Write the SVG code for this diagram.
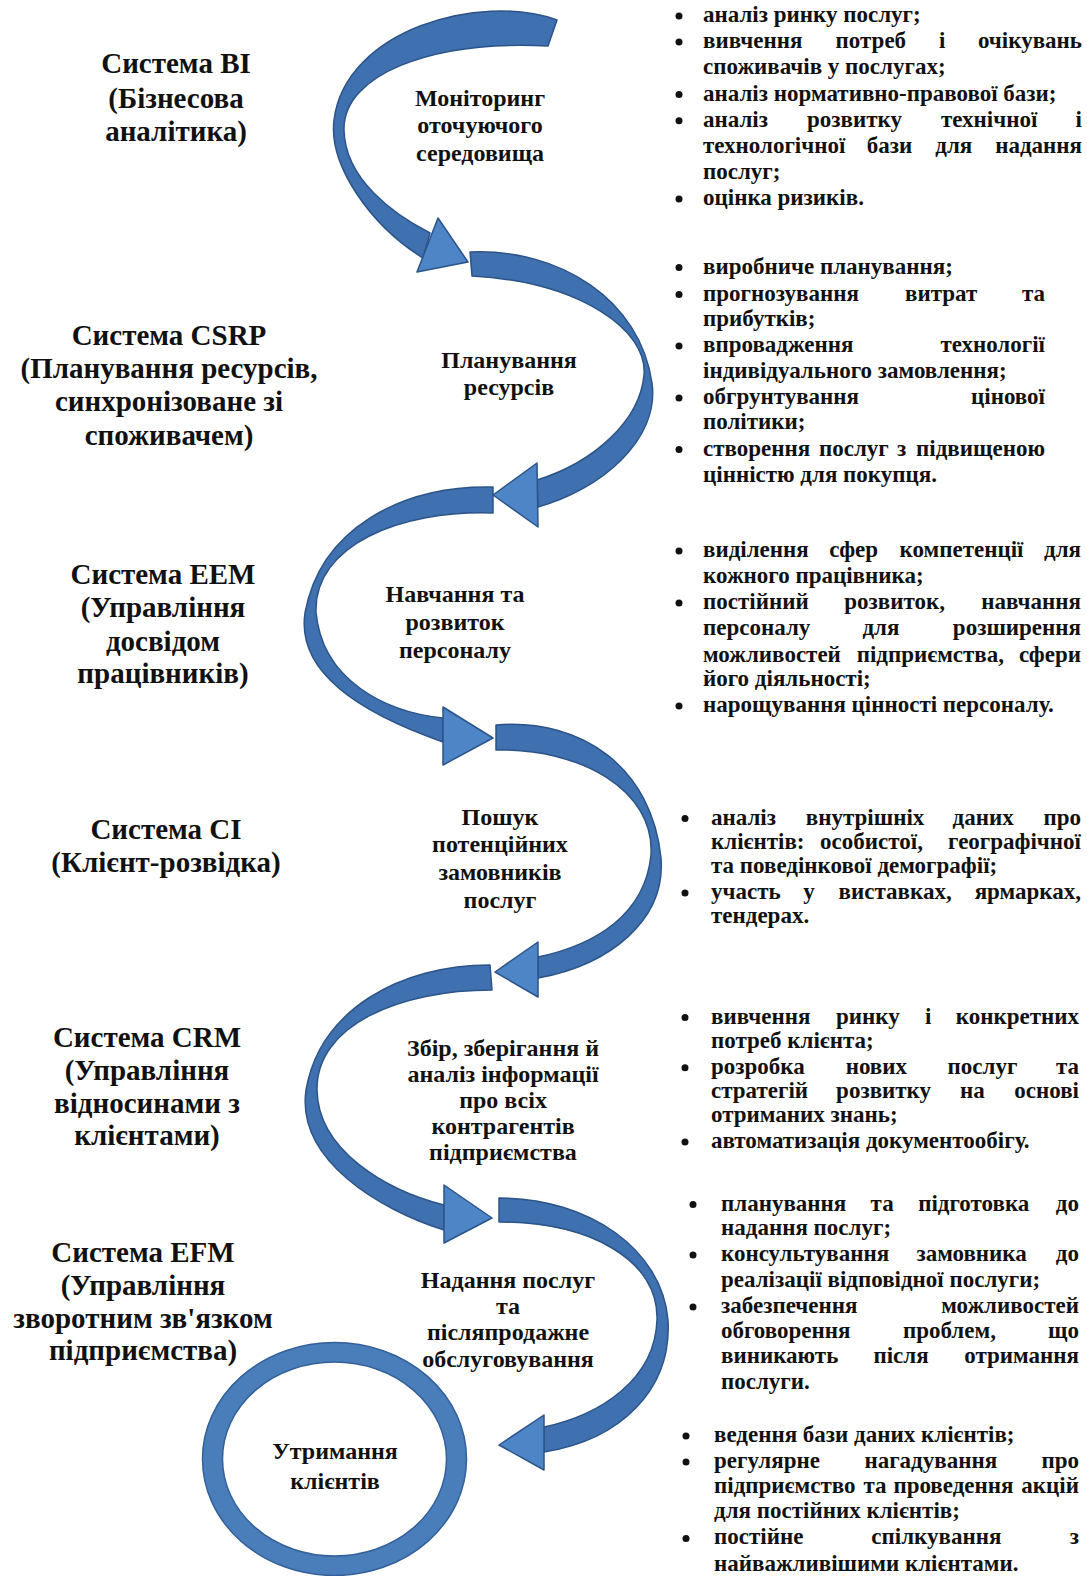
<svg xmlns="http://www.w3.org/2000/svg" width="1087" height="1576" viewBox="0 0 1087 1576">
<style>
text{font-family:"Liberation Serif","Times New Roman",serif;font-weight:bold;fill:#111}
.l{font-size:29px;text-anchor:middle}
.m{font-size:24px;text-anchor:middle}
.r{font-size:23px}
.e{text-anchor:end}
.band{fill:#3f70b0;stroke:#2c5488;stroke-width:1.5;stroke-linejoin:round}
.head{fill:#4d85c7;stroke:#2c5488;stroke-width:1.5;stroke-linejoin:round}
.dot{fill:#111}
</style>
<rect width="1087" height="1576" fill="#fff"/>
<g id="connectors">
<path class="band" d="M557,20 C480,-8 345,30 334,120 C328.5,165 370,225 423,258 L430,233 C395,215 345,180 344,130 C343,75 430,40 548,46 Z"/>
<polygon class="head" points="438,218 468,262 417,272"/>
<path class="band" d="M470,252 C560,248 640,300 652,383 C660,440 600,490 538,507 L537,480 C595,462 640,420 644,375 C648,330 580,282 472,276 Z"/>
<polygon class="head" points="537,463 493,495 538,527"/>
<path class="band" d="M493,487 C400,485 320,530 305,613 C295,680 380,720 443,742 L443,718 C385,712 322,680 316,612 C314,545 400,510 493,513 Z"/>
<polygon class="head" points="443,707 493,738 443,765"/>
<path class="band" d="M496,725 C585,718 652,770 661,858 C666,920 610,965 538,978 L538,957 C595,945 645,915 651,855 C655,790 580,748 496,750 Z"/>
<polygon class="head" points="538,942 495,972 538,997"/>
<path class="band" d="M490,965 C400,965 320,1010 306,1090 C296,1160 380,1210 444,1230 L444,1205 C385,1190 318,1150 317,1090 C316,1025 400,990 492,990 Z"/>
<polygon class="head" points="444,1185 492,1218 444,1243"/>
<path class="band" d="M499,1198 C590,1198 662,1250 668,1320 C672,1390 620,1440 544,1452 L544,1427 C600,1415 655,1380 657,1320 C659,1260 590,1222 499,1222 Z"/>
<polygon class="head" points="544,1415 499,1445 544,1470"/>
</g>
<g id="ring-retention">
<ellipse cx="334.5" cy="1459" rx="132" ry="116.5" fill="#4a7ebb" stroke="#33609a" stroke-width="1.5"/>
<ellipse cx="334.5" cy="1459" rx="112" ry="97" fill="#fff" stroke="#33609a" stroke-width="1.5"/>
<text class="m" x="335" y="1459">Утримання</text>
<text class="m" x="335" y="1489">клієнтів</text>
</g>
<g id="system-bi">
<text class="l" x="176" y="73">Система BI</text>
<text class="l" x="176" y="107.5">(Бізнесова</text>
<text class="l" x="176" y="140.7">аналітика)</text>
</g>
<g id="system-csrp">
<text class="l" x="169" y="345">Система CSRP</text>
<text class="l" x="169" y="378">(Планування ресурсів,</text>
<text class="l" x="169" y="411">синхронізоване зі</text>
<text class="l" x="169" y="445">споживачем)</text>
</g>
<g id="system-eem">
<text class="l" x="163" y="584">Система EEM</text>
<text class="l" x="163" y="617">(Управління</text>
<text class="l" x="163" y="650.5">досвідом</text>
<text class="l" x="163" y="682.7">працівників)</text>
</g>
<g id="system-ci">
<text class="l" x="166" y="838.5">Система CI</text>
<text class="l" x="166" y="871.7">(Клієнт-розвідка)</text>
</g>
<g id="system-crm">
<text class="l" x="147" y="1046.7">Система CRM</text>
<text class="l" x="147" y="1080">(Управління</text>
<text class="l" x="147" y="1113">відносинами з</text>
<text class="l" x="147" y="1145">клієнтами)</text>
</g>
<g id="system-efm">
<text class="l" x="143" y="1262">Система EFM</text>
<text class="l" x="143" y="1295">(Управління</text>
<text class="l" x="143" y="1328">зворотним зв'язком</text>
<text class="l" x="143" y="1360">підприємства)</text>
</g>
<g id="stage-monitoring">
<text class="m" x="480" y="105.5">Моніторинг</text>
<text class="m" x="480" y="132.7">оточуючого</text>
<text class="m" x="480" y="160.8">середовища</text>
</g>
<g id="stage-planning">
<text class="m" x="509" y="368">Планування</text>
<text class="m" x="509" y="395">ресурсів</text>
</g>
<g id="stage-training">
<text class="m" x="455" y="602">Навчання та</text>
<text class="m" x="455" y="630">розвиток</text>
<text class="m" x="455" y="658">персоналу</text>
</g>
<g id="stage-search">
<text class="m" x="500" y="824.5">Пошук</text>
<text class="m" x="500" y="851.6">потенційних</text>
<text class="m" x="500" y="879.8">замовників</text>
<text class="m" x="500" y="908">послуг</text>
</g>
<g id="stage-collect">
<text class="m" x="503" y="1056">Збір, зберігання й</text>
<text class="m" x="503" y="1082">аналіз інформації</text>
<text class="m" x="503" y="1108">про всіх</text>
<text class="m" x="503" y="1134">контрагентів</text>
<text class="m" x="503" y="1160">підприємства</text>
</g>
<g id="stage-service">
<text class="m" x="508" y="1288">Надання послуг</text>
<text class="m" x="508" y="1314">та</text>
<text class="m" x="508" y="1340">післяпродажне</text>
<text class="m" x="508" y="1367">обслуговування</text>
</g>
<g id="list-bi">
<circle class="dot" cx="679" cy="16" r="3.5"/><circle class="dot" cx="679" cy="42" r="3.5"/><circle class="dot" cx="679" cy="94.5" r="3.5"/><circle class="dot" cx="679" cy="120.7" r="3.5"/><circle class="dot" cx="679" cy="199" r="3.5"/>
<text class="r" x="703" y="22">аналіз ринку послуг;</text>
<text class="r" y="48"><tspan x="703">вивчення</tspan><tspan x="835.6">потреб</tspan><tspan x="939">і</tspan><tspan class="e" x="1082">очікувань</tspan></text>
<text class="r" x="703" y="74">споживачів у послугах;</text>
<text class="r" x="703" y="100.5">аналіз нормативно-правової бази;</text>
<text class="r" y="126.7"><tspan x="703">аналіз</tspan><tspan x="807">розвитку</tspan><tspan x="941">технічної</tspan><tspan class="e" x="1082">і</tspan></text>
<text class="r" y="152.8"><tspan x="703">технологічної</tspan><tspan x="866.7">бази</tspan><tspan x="935.3">для</tspan><tspan class="e" x="1082">надання</tspan></text>
<text class="r" x="703" y="179">послуг;</text>
<text class="r" x="703" y="205">оцінка ризиків.</text>
</g>
<g id="list-csrp">
<circle class="dot" cx="679" cy="267.5" r="3.5"/><circle class="dot" cx="679" cy="294.6" r="3.5"/><circle class="dot" cx="679" cy="346" r="3.5"/><circle class="dot" cx="679" cy="398" r="3.5"/><circle class="dot" cx="679" cy="449.5" r="3.5"/>
<text class="r" x="703" y="273.5">виробниче планування;</text>
<text class="r" y="300.6"><tspan x="703">прогнозування</tspan><tspan x="905">витрат</tspan><tspan class="e" x="1045">та</tspan></text>
<text class="r" x="703" y="325.7">прибутків;</text>
<text class="r" y="352"><tspan x="703">впровадження</tspan><tspan class="e" x="1045">технології</tspan></text>
<text class="r" x="703" y="378">індивідуального замовлення;</text>
<text class="r" y="404"><tspan x="703">обгрунтування</tspan><tspan class="e" x="1045">цінової</tspan></text>
<text class="r" x="703" y="429.3">політики;</text>
<text class="r" y="455.5"><tspan x="703">створення</tspan><tspan x="819">послуг</tspan><tspan x="897">з</tspan><tspan class="e" x="1045">підвищеною</tspan></text>
<text class="r" x="703" y="481.6">цінністю для покупця.</text>
</g>
<g id="list-eem">
<circle class="dot" cx="679" cy="551" r="3.5"/><circle class="dot" cx="679" cy="603" r="3.5"/><circle class="dot" cx="679" cy="706" r="3.5"/>
<text class="r" y="557"><tspan x="703">виділення</tspan><tspan x="829.3">сфер</tspan><tspan x="899.5">компетенції</tspan><tspan class="e" x="1081">для</tspan></text>
<text class="r" x="703" y="583">кожного працівника;</text>
<text class="r" y="609"><tspan x="703">постійний</tspan><tspan x="844.2">розвиток,</tspan><tspan class="e" x="1081">навчання</tspan></text>
<text class="r" y="635.4"><tspan x="703">персоналу</tspan><tspan x="862.4">для</tspan><tspan class="e" x="1081">розширення</tspan></text>
<text class="r" y="661.6"><tspan x="703">можливостей</tspan><tspan x="856.7">підприємства,</tspan><tspan class="e" x="1081">сфери</tspan></text>
<text class="r" x="703" y="686">його діяльності;</text>
<text class="r" x="703" y="712">нарощування цінності персоналу.</text>
</g>
<g id="list-ci">
<circle class="dot" cx="685" cy="818.5" r="3.5"/><circle class="dot" cx="685" cy="893" r="3.5"/>
<text class="r" y="824.5"><tspan x="711">аналіз</tspan><tspan x="805.8">внутрішніх</tspan><tspan x="952.5">даних</tspan><tspan class="e" x="1081">про</tspan></text>
<text class="r" y="848.6"><tspan x="711">клієнтів:</tspan><tspan x="820.1">особистої,</tspan><tspan class="e" x="1081">географічної</tspan></text>
<text class="r" x="711" y="872.7">та поведінкової демографії;</text>
<text class="r" y="899"><tspan x="711">участь</tspan><tspan x="803.3">у</tspan><tspan x="838.6">виставках,</tspan><tspan class="e" x="1081">ярмарках,</tspan></text>
<text class="r" x="711" y="923">тендерах.</text>
</g>
<g id="list-crm">
<circle class="dot" cx="685" cy="1017.6" r="3.5"/><circle class="dot" cx="685" cy="1067.8" r="3.5"/><circle class="dot" cx="685" cy="1142" r="3.5"/>
<text class="r" y="1023.6"><tspan x="711">вивчення</tspan><tspan x="836">ринку</tspan><tspan x="925">і</tspan><tspan class="e" x="1079">конкретних</tspan></text>
<text class="r" x="711" y="1047.7">потреб клієнта;</text>
<text class="r" y="1073.8"><tspan x="711">розробка</tspan><tspan x="845.7">нових</tspan><tspan x="947.6">послуг</tspan><tspan class="e" x="1079">та</tspan></text>
<text class="r" y="1098"><tspan x="711">стратегій</tspan><tspan x="836.1">розвитку</tspan><tspan x="960.1">на</tspan><tspan class="e" x="1079">основі</tspan></text>
<text class="r" x="711" y="1122">отриманих знань;</text>
<text class="r" x="711" y="1148">автоматизація документообігу.</text>
</g>
<g id="list-efm">
<circle class="dot" cx="693" cy="1204.6" r="3.5"/><circle class="dot" cx="693" cy="1254.9" r="3.5"/><circle class="dot" cx="693" cy="1307" r="3.5"/>
<text class="r" y="1210.6"><tspan x="721">планування</tspan><tspan x="870.6">та</tspan><tspan x="918.2">підготовка</tspan><tspan class="e" x="1079">до</tspan></text>
<text class="r" x="721" y="1234.7">надання послуг;</text>
<text class="r" y="1260.9"><tspan x="721">консультування</tspan><tspan x="916.4">замовника</tspan><tspan class="e" x="1079">до</tspan></text>
<text class="r" x="721" y="1287">реалізації відповідної послуги;</text>
<text class="r" y="1313"><tspan x="721">забезпечення</tspan><tspan class="e" x="1079">можливостей</tspan></text>
<text class="r" y="1338.3"><tspan x="721">обговорення</tspan><tspan x="902.9">проблем,</tspan><tspan class="e" x="1079">що</tspan></text>
<text class="r" y="1363.4"><tspan x="721">виникають</tspan><tspan x="873.4">після</tspan><tspan class="e" x="1079">отримання</tspan></text>
<text class="r" x="721" y="1388.6">послуги.</text>
</g>
<g id="list-retention">
<circle class="dot" cx="686" cy="1436" r="3.5"/><circle class="dot" cx="686" cy="1462" r="3.5"/><circle class="dot" cx="686" cy="1538.4" r="3.5"/>
<text class="r" x="714" y="1442">ведення бази даних клієнтів;</text>
<text class="r" y="1468"><tspan x="714">регулярне</tspan><tspan x="864.4">нагадування</tspan><tspan class="e" x="1079">про</tspan></text>
<text class="r" y="1493"><tspan x="714">підприємство</tspan><tspan x="863.4">та</tspan><tspan x="893.4">проведення</tspan><tspan class="e" x="1079">акцій</tspan></text>
<text class="r" x="714" y="1518">для постійних клієнтів;</text>
<text class="r" y="1544.4"><tspan x="714">постійне</tspan><tspan x="871.3">спілкування</tspan><tspan class="e" x="1079">з</tspan></text>
<text class="r" x="714" y="1570.6">найважливішими клієнтами.</text>
</g>
</svg>
